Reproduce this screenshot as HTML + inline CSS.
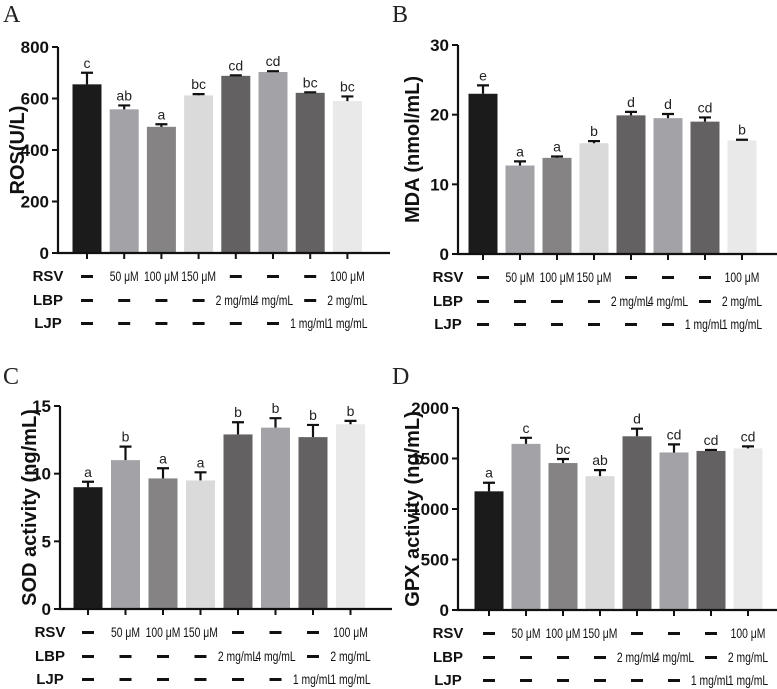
<!DOCTYPE html>
<html><head><meta charset="utf-8"><style>
body{margin:0;background:#fff;}
svg{display:block;font-family:"Liberation Sans",Arial,sans-serif;}
</style></head><body>
<svg id="fig" width="777" height="689" viewBox="0 0 777 689" xmlns="http://www.w3.org/2000/svg"></svg>
<script>
const categories = ["Control","RSV 50","RSV 100","RSV 150","LBP 2","LBP 4","LJP 1","Combo"];
const rosValues = [655,558,490,612,688,703,622,590];
const rosErrors = [45,15,10,5,2,3,2,18];
const rosLetters = ["c","ab","a","bc","cd","cd","bc","bc"];
const mdaValues = [23,12.7,13.8,15.9,19.9,19.5,19,16.3];
const mdaErrors = [1.2,0.6,0.2,0.3,0.5,0.6,0.6,0.1];
const mdaLetters = ["e","a","a","b","d","d","cd","b"];
const sodValues = [9,11,9.65,9.5,12.9,13.4,12.7,13.65];
const sodErrors = [0.4,1,0.75,0.6,0.9,0.7,0.9,0.25];
const sodLetters = ["a","b","a","a","b","b","b","b"];
const gpxValues = [1175,1645,1455,1325,1720,1560,1575,1600];
const gpxErrors = [85,60,40,60,75,80,10,20];
const gpxLetters = ["a","c","bc","ab","d","cd","cd","cd"];
const rosTicks = [0,200,400,600,800];
const mdaTicks = [0,10,20,30];
const sodTicks = [0,5,10,15];
const gpxTicks = [0,500,1000,1500,2000];
const rsvRow = ["—","50 μM","100 μM","150 μM","—","—","—","100 μM"];
const lbpRow = ["—","—","—","—","2 mg/mL","4 mg/mL","—","2 mg/mL"];
const ljpRow = ["—","—","—","—","—","—","1 mg/mL","1 mg/mL"];
const colors = ["#1b1b1b","#a3a2a7","#868385","#dadada","#646162","#a3a2a7","#646162","#e9e9e9"];

const NS="http://www.w3.org/2000/svg";
const svg=document.getElementById('fig');
function mk(tag,attrs,parent,text){const e=document.createElementNS(NS,tag);for(const k in attrs)e.setAttribute(k,attrs[k]);if(text!==undefined)e.textContent=text;(parent||svg).appendChild(e);return e;}

function panel(o){
  const g=mk('g',{});
  
  
  const max=o.ticks[o.ticks.length-1];
  const y=v=>o.zeroY-(v/max)*(o.zeroY-o.topY);
  const x=i=>o.axisX+o.first+i*o.step;
  const L=mk('text',{x:o.letterX,y:o.letterY,'font-family':'"Liberation Serif",serif','font-size':24,fill:'#222'},g,o.letter);
  
  o.values.forEach((v,i)=>{
    const cx=x(i), w=29;
    const b=mk('rect',{x:cx-w/2,y:y(v),width:w,height:o.zeroY-y(v),fill:colors[i]},g);
    
    const top=y(v+o.errors[i]);
    const e=mk('path',{d:`M${cx} ${y(v)} V${top} M${cx-6} ${top} H${cx+6}`,stroke:'#111','stroke-width':2.2,fill:'none'},g);
    
    const t=mk('text',{x:cx,y:top-5,'text-anchor':'middle','font-size':14,fill:'#222'},g,o.letters[i]);
    
    mk('line',{x1:cx,y1:o.zeroY,x2:cx,y2:o.zeroY+6,stroke:'#111','stroke-width':2},g);
  });
  const ax=mk('path',{d:`M${o.axisX} ${o.topY} V${o.zeroY} H${o.axisX+332}`,stroke:'#111','stroke-width':2.2,fill:'none'},g);
  
  o.ticks.forEach(t=>{
    mk('line',{x1:o.axisX-6,y1:y(t),x2:o.axisX,y2:y(t),stroke:'#111','stroke-width':2},g);
    const tl=mk('text',{x:o.axisX-9,y:y(t)+6,'text-anchor':'end','font-size':17,'font-weight':'bold',fill:'#111'},g,t);
    
  });
  const yt=mk('text',{x:0,y:0,transform:`translate(${o.titleX},${(o.topY+o.zeroY)/2}) rotate(-90)`,'text-anchor':'middle','font-size':20,'font-weight':'bold',fill:'#111'},g,o.title);
  
  [["RSV",rsvRow,23],["LBP",lbpRow,47],["LJP",ljpRow,70]].forEach(([lab,row,dy])=>{
    const ry=o.zeroY+dy+5;
    const rl=mk('text',{x:o.axisX-10,y:ry,'text-anchor':'middle','font-size':15,'font-weight':'bold',fill:'#111'},g,lab);
    
    row.forEach((s,i)=>{
      if(s==="—"){
        const d=mk('rect',{x:x(i)-6,y:ry-6,width:12,height:3,fill:'#111'},g);
        
      } else {
        const c=mk('text',{x:0,y:0,transform:`translate(${x(i)},${ry}) scale(0.74,1)`,'text-anchor':'middle','font-size':14,fill:'#111'},g,s);
        
      }
    });
  });
}
panel({name:'panel-a-ros',letter:'A',letterX:3,letterY:22,axisX:58,topY:47,zeroY:253,first:29,step:37.2,values:rosValues,errors:rosErrors,letters:rosLetters,ticks:rosTicks,title:'ROS(U/L)',titleX:24});
panel({name:'panel-b-mda',letter:'B',letterX:392,letterY:22,axisX:458,topY:45,zeroY:254,first:25,step:37,values:mdaValues,errors:mdaErrors,letters:mdaLetters,ticks:mdaTicks,title:'MDA (nmol/mL)',titleX:419});
panel({name:'panel-c-sod',letter:'C',letterX:3,letterY:384,axisX:60,topY:406,zeroY:609,first:28,step:37.5,values:sodValues,errors:sodErrors,letters:sodLetters,ticks:sodTicks,title:'SOD activity (ng/mL)',titleX:36});
panel({name:'panel-d-gpx',letter:'D',letterX:392,letterY:384,axisX:458,topY:408,zeroY:610,first:31,step:37,values:gpxValues,errors:gpxErrors,letters:gpxLetters,ticks:gpxTicks,title:'GPX activity (ng/mL)',titleX:419});
</script>
</body></html>
